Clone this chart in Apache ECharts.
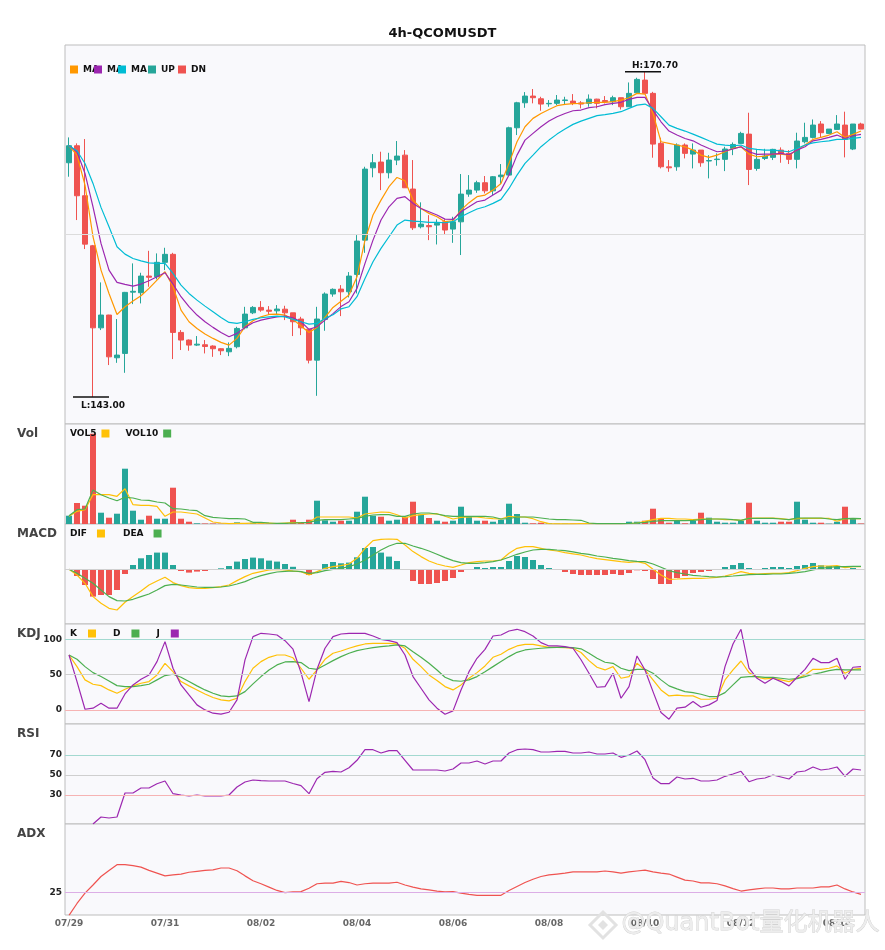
<!DOCTYPE html>
<html>
<head>
<meta charset="utf-8">
<title>4h-QCOMUSDT</title>
<script src="https://cdn.jsdelivr.net/npm/echarts/dist/echarts.min.js"></script>
<style>
html, body { margin: 0; padding: 0; background: #fff; }
#container { width: 885px; height: 950px; }
</style>
</head>
<body>
<div id="container"></div>
<script>
// 4h candles from 07/29 00:00
var startTime = Date.UTC(2025, 6, 29, 0, 0);

var opens = [
162.95, 164.40, 160.14, 155.88, 148.89, 149.98, 146.34, 146.71, 151.93, 151.88,
153.30, 153.24, 154.47, 155.15, 148.50, 147.85, 147.42, 147.45, 147.34, 147.11,
146.85, 147.28, 148.89, 150.17, 150.63, 150.40, 150.34, 150.48, 150.17, 149.64,
148.78, 146.14, 149.61, 151.77, 152.19, 151.96, 153.44, 156.36, 162.52, 163.01,
162.10, 163.18, 163.60, 160.71, 157.50, 157.60, 157.64, 157.92, 157.30, 157.92,
160.28, 160.62, 161.25, 160.56, 161.76, 161.90, 165.93, 168.06, 168.63, 168.40,
167.97, 168.01, 168.25, 168.20, 168.05, 168.01, 168.37, 168.25, 168.15, 168.49,
167.72, 168.91, 169.99, 168.86, 164.60, 162.60, 162.61, 164.46, 163.69, 164.03,
163.10, 163.22, 163.24, 164.17, 164.60, 165.39, 162.47, 163.32, 163.41, 164.03,
163.75, 163.24, 164.74, 165.11, 166.25, 165.45, 165.79, 166.16, 164.12, 166.25
];
var closes = [
164.40, 160.14, 156.02, 148.89, 149.98, 146.42, 146.57, 151.91, 152.00, 153.30,
153.20, 154.47, 155.15, 148.50, 147.85, 147.42, 147.50, 147.30, 147.11, 146.94,
147.14, 148.84, 150.06, 150.63, 150.40, 150.30, 150.49, 150.17, 149.41, 148.89,
146.14, 149.64, 151.77, 152.17, 151.96, 153.30, 156.28, 162.41, 162.95, 162.10,
163.18, 163.52, 160.82, 157.41, 157.73, 157.50, 157.79, 157.22, 157.92, 160.28,
160.62, 161.25, 160.56, 161.76, 161.90, 165.93, 168.06, 168.63, 168.49, 167.95,
168.01, 168.29, 168.30, 168.01, 167.95, 168.37, 168.01, 168.15, 168.49, 167.72,
168.86, 170.05, 168.86, 164.54, 162.61, 162.52, 164.46, 163.75, 164.03, 162.95,
163.14, 163.26, 164.12, 164.51, 165.45, 162.38, 163.24, 163.52, 164.09, 163.75,
163.24, 164.80, 165.11, 166.16, 165.51, 165.82, 166.25, 164.94, 166.25, 165.82
];
var lows = [
161.76, 158.07, 155.60, 143.00, 148.70, 145.72, 145.91, 145.06, 150.91, 150.97,
152.39, 153.02, 153.81, 146.23, 147.00, 146.94, 147.34, 146.71, 146.42, 146.57,
146.48, 147.14, 148.76, 150.06, 150.26, 149.98, 150.06, 149.55, 148.19, 148.27,
145.86, 143.10, 148.64, 151.54, 149.89, 151.48, 151.82, 155.28, 161.71, 160.62,
161.62, 162.75, 160.80, 157.22, 157.36, 156.36, 155.99, 156.85, 156.13, 155.09,
160.05, 160.39, 160.34, 160.20, 161.13, 161.90, 165.31, 167.63, 168.01, 167.38,
167.72, 167.86, 167.92, 167.86, 167.58, 167.72, 167.58, 168.00, 167.86, 167.49,
167.72, 168.86, 168.86, 163.38, 162.47, 162.18, 162.27, 163.32, 162.47, 162.61,
161.62, 162.70, 162.24, 163.60, 164.60, 161.05, 162.27, 163.18, 163.18, 162.95,
162.84, 162.47, 164.60, 165.02, 165.11, 165.39, 165.79, 163.41, 164.03, 165.82
];
var highs = [
165.11, 164.60, 164.97, 155.95, 152.76, 150.00, 149.64, 151.95, 154.38, 153.58,
155.45, 155.23, 155.71, 155.28, 148.70, 147.90, 148.19, 147.85, 147.40, 147.15,
147.65, 148.98, 150.68, 150.74, 151.17, 150.74, 150.83, 150.77, 150.17, 149.83,
148.78, 150.68, 151.91, 152.25, 152.53, 153.64, 156.79, 162.61, 163.69, 163.89,
163.80, 164.80, 164.03, 163.18, 159.58, 158.49, 158.13, 158.13, 158.35, 161.99,
161.90, 161.42, 161.82, 161.82, 162.84, 166.02, 168.14, 168.97, 169.23, 168.57,
168.29, 168.72, 168.57, 168.80, 168.20, 168.77, 168.40, 168.63, 168.66, 168.49,
169.79, 170.19, 170.70, 168.99, 165.08, 163.18, 164.60, 164.60, 164.60, 164.03,
163.60, 163.75, 164.31, 164.68, 165.59, 167.21, 164.09, 164.14, 164.14, 164.26,
164.03, 165.51, 166.36, 166.64, 166.50, 165.82, 167.01, 167.30, 166.25, 166.36
];

var ma5 = [
164.40, 163.60, 161.05, 156.65, 153.81, 151.82, 150.03, 150.69, 151.17, 151.62,
152.25, 152.96, 153.67, 152.39, 150.40, 149.41, 148.84, 148.36, 147.99, 147.65,
147.42, 147.99, 148.98, 149.49, 149.83, 150.03, 150.06, 149.98, 149.61, 149.04,
148.50, 148.93, 149.78, 150.63, 151.15, 151.68, 153.24, 156.36, 158.50, 159.77,
160.91, 161.70, 161.42, 159.77, 159.06, 158.64, 158.35, 157.93, 158.01, 158.92,
159.55, 160.06, 160.20, 160.62, 161.19, 162.90, 164.74, 166.02, 166.73, 167.15,
167.49, 167.81, 167.92, 167.98, 168.01, 168.06, 168.09, 168.09, 168.15, 168.29,
168.49, 168.86, 168.80, 167.15, 164.74, 164.60, 164.46, 164.31, 164.03, 163.60,
163.41, 163.60, 163.89, 164.17, 164.31, 163.69, 163.46, 163.52, 163.69, 163.69,
163.60, 164.03, 164.46, 164.94, 165.11, 165.31, 165.59, 165.11, 165.37, 165.65
];
var ma10 = [
164.40, 163.89, 162.04, 159.20, 156.08, 153.81, 152.76, 152.59, 152.45, 152.62,
152.90, 153.24, 153.58, 152.62, 151.54, 150.69, 149.98, 149.41, 148.93, 148.50,
148.13, 148.42, 148.93, 149.32, 149.55, 149.69, 149.83, 149.89, 149.75, 149.41,
148.76, 148.98, 149.55, 150.10, 150.70, 151.11, 152.25, 154.38, 156.36, 158.07,
159.20, 159.91, 160.06, 159.49, 159.06, 158.78, 158.50, 158.15, 158.12, 158.78,
159.20, 159.63, 159.77, 160.20, 160.62, 161.90, 163.60, 164.88, 165.45, 166.02,
166.50, 166.87, 167.15, 167.38, 167.44, 167.64, 167.72, 167.90, 168.01, 168.10,
168.35, 168.52, 168.52, 167.44, 166.44, 165.65, 165.31, 165.02, 164.82, 164.46,
164.17, 163.89, 163.95, 164.12, 164.31, 163.89, 163.66, 163.69, 163.69, 163.75,
163.63, 164.03, 164.31, 164.82, 164.94, 165.11, 165.31, 165.02, 165.25, 165.37
];
var ma20 = [
164.40, 163.97, 162.89, 161.19, 159.15, 157.50, 155.80, 155.17, 154.80, 154.60,
154.43, 154.38, 154.38, 153.53, 152.53, 151.82, 151.25, 150.74, 150.26, 149.78,
149.35, 149.27, 149.41, 149.61, 149.75, 149.83, 149.89, 149.83, 149.61, 149.41,
149.21, 149.27, 149.69, 150.00, 150.50, 150.69, 151.54, 153.10, 154.52, 155.66,
156.65, 157.64, 158.07, 157.98, 157.93, 157.87, 157.87, 157.84, 157.93, 158.35,
158.69, 159.01, 159.20, 159.49, 159.83, 160.76, 161.90, 162.90, 163.60, 164.32,
164.88, 165.39, 165.82, 166.22, 166.50, 166.73, 166.96, 167.05, 167.15, 167.30,
167.58, 167.86, 167.95, 167.58, 166.87, 166.16, 165.88, 165.65, 165.39, 165.11,
164.82, 164.54, 164.46, 164.40, 164.46, 164.17, 164.09, 164.03, 164.03, 163.97,
163.89, 164.17, 164.46, 164.65, 164.74, 164.82, 164.94, 164.94, 165.02, 165.11
];

var vols = [
8.3, 21.0, 18.3, 90.3, 11.3, 6.3, 10.3, 55.3, 13.3, 4.3,
8.3, 5.3, 5.3, 36.3, 5.3, 2.3, 0.7, 0.5, 0.5, 0.3,
0.3, 1.7, 0.5, 1.3, 0.5, 0.3, 0.3, 1.0, 4.3, 1.0,
4.3, 23.3, 3.7, 2.3, 3.3, 3.3, 12.3, 27.3, 8.3, 7.3,
3.3, 4.3, 7.3, 22.3, 9.3, 6.0, 3.3, 2.3, 3.3, 17.3,
7.7, 3.3, 3.3, 2.3, 4.3, 20.3, 10.0, 1.3, 0.7, 1.3,
0.7, 0.3, 0.3, 0.3, 0.4, 0.4, 0.4, 0.5, 0.5, 0.5,
2.3, 2.3, 3.3, 15.3, 5.3, 1.3, 3.3, 0.7, 3.3, 11.3,
6.3, 2.3, 1.3, 1.3, 3.3, 21.3, 3.3, 1.3, 1.3, 2.3,
2.3, 22.3, 4.3, 1.3, 1.3, 0.3, 2.3, 17.3, 5.3, 0.5
];
var vol5 = [
7.7, 12.7, 14.3, 29.3, 29.3, 29.3, 27.7, 35.3, 19.3, 18.7,
18.7, 17.7, 7.7, 12.0, 12.0, 11.0, 10.0, 6.0, 2.0, 1.0,
0.3, 0.7, 0.7, 0.8, 0.9, 0.8, 0.5, 1.0, 1.3, 1.3,
1.7, 7.0, 7.0, 7.0, 7.0, 7.0, 6.0, 10.0, 11.0, 12.0,
11.7, 9.3, 6.0, 8.3, 9.3, 10.0, 10.3, 7.7, 5.0, 6.7,
7.0, 7.0, 6.0, 5.3, 5.0, 7.7, 7.0, 7.0, 5.3, 2.3,
0.3, 0.2, 0.2, 0.2, 0.3, 0.3, 0.3, 0.4, 0.4, 0.4,
0.5, 1.0, 2.7, 4.3, 5.7, 5.7, 5.0, 5.0, 4.3, 5.0,
5.0, 5.0, 4.3, 4.3, 3.7, 5.7, 6.0, 6.0, 6.0, 5.3,
4.3, 5.3, 5.7, 5.7, 5.7, 5.7, 2.7, 5.3, 5.3, 5.3
];
var vol10 = [
8.3, 14.3, 15.0, 34.0, 29.3, 26.0, 23.3, 26.7, 26.0, 24.0,
23.7, 22.0, 21.0, 15.3, 15.0, 14.0, 13.3, 8.3, 6.7, 6.0,
5.3, 5.3, 5.0, 1.7, 1.7, 1.0, 0.7, 0.7, 1.0, 1.3,
1.7, 3.7, 4.3, 4.3, 4.3, 5.0, 5.7, 7.7, 9.0, 9.3,
9.3, 7.7, 7.7, 10.0, 11.0, 11.0, 10.0, 8.3, 7.7, 7.7,
7.7, 7.7, 7.7, 7.0, 5.0, 5.3, 7.0, 7.0, 7.0, 6.0,
5.0, 4.3, 4.3, 4.0, 3.7, 1.0, 0.3, 0.3, 0.3, 0.3,
0.5, 1.0, 1.7, 2.7, 3.3, 3.3, 3.3, 3.3, 3.7, 4.3,
5.0, 5.0, 5.0, 4.3, 3.7, 5.7, 5.7, 5.7, 5.7, 5.0,
4.3, 6.0, 6.0, 6.0, 6.0, 5.0, 4.3, 5.3, 5.7, 5.3
];

var macdHist = [
0.00, -0.67, -1.57, -2.73, -2.57, -2.57, -2.07, -0.47, 0.43, 1.10,
1.43, 1.67, 1.67, 0.43, -0.17, -0.33, -0.23, -0.17, 0.02, 0.10,
0.33, 0.77, 1.03, 1.17, 1.10, 0.87, 0.77, 0.53, 0.25, 0.02,
-0.57, -0.07, 0.53, 0.73, 0.60, 0.67, 1.20, 2.13, 2.23, 1.67,
1.27, 0.83, -0.07, -1.17, -1.47, -1.47, -1.37, -1.17, -0.87, -0.27,
0.02, 0.23, 0.13, 0.23, 0.23, 0.83, 1.33, 1.23, 0.93, 0.43,
0.13, -0.07, -0.27, -0.47, -0.57, -0.57, -0.57, -0.57, -0.47, -0.57,
-0.37, -0.10, -0.17, -0.97, -1.47, -1.47, -0.87, -0.67, -0.37, -0.27,
-0.17, -0.07, 0.23, 0.43, 0.63, 0.13, 0.02, 0.13, 0.23, 0.23,
0.13, 0.33, 0.43, 0.63, 0.40, 0.33, 0.27, -0.07, 0.13, 0.02
];
var dif = [
0.00, -0.57, -1.40, -2.73, -3.40, -3.90, -4.07, -3.30, -2.73, -2.17,
-1.57, -1.17, -0.80, -1.33, -1.63, -1.83, -1.90, -1.90, -1.83, -1.73,
-1.57, -1.13, -0.73, -0.40, -0.23, -0.07, 0.00, -0.05, -0.18, -0.23,
-0.57, -0.23, 0.10, 0.27, 0.37, 0.53, 1.10, 2.10, 2.87, 3.00,
3.03, 3.00, 2.43, 1.77, 1.27, 0.83, 0.53, 0.33, 0.20, 0.43,
0.67, 0.77, 0.83, 0.83, 0.93, 1.60, 2.10, 2.27, 2.27, 2.10,
1.93, 1.83, 1.67, 1.55, 1.43, 1.23, 1.07, 0.97, 0.87, 0.77,
0.70, 0.77, 0.60, 0.00, -0.57, -1.00, -0.97, -0.93, -0.90, -0.90,
-0.87, -0.80, -0.67, -0.47, -0.23, -0.40, -0.47, -0.43, -0.40, -0.40,
-0.33, -0.13, 0.10, 0.27, 0.33, 0.33, 0.37, 0.17, 0.27, 0.27
];
var dea = [
0.00, -0.40, -0.90, -1.40, -2.07, -2.73, -3.13, -3.17, -3.00, -2.73,
-2.47, -2.07, -1.63, -1.50, -1.57, -1.67, -1.77, -1.80, -1.80, -1.77,
-1.67, -1.47, -1.23, -0.90, -0.63, -0.43, -0.27, -0.20, -0.17, -0.23,
-0.40, -0.33, -0.13, 0.00, 0.10, 0.27, 0.53, 0.93, 1.43, 1.93,
2.33, 2.60, 2.60, 2.33, 2.10, 1.83, 1.50, 1.17, 0.87, 0.67,
0.60, 0.60, 0.67, 0.77, 0.93, 1.20, 1.50, 1.73, 1.93, 2.00,
2.00, 1.93, 1.87, 1.75, 1.60, 1.50, 1.33, 1.23, 1.10, 1.00,
0.87, 0.80, 0.77, 0.53, 0.20, -0.13, -0.33, -0.47, -0.60, -0.67,
-0.73, -0.77, -0.73, -0.67, -0.60, -0.53, -0.50, -0.50, -0.47, -0.47,
-0.40, -0.33, -0.23, -0.07, 0.10, 0.20, 0.27, 0.27, 0.30, 0.30
];

var kdjK = [
77.8, 61.3, 42.5, 36.3, 34.4, 28.3, 23.6, 29.2, 34.0, 37.7,
40.1, 49.5, 66.0, 54.2, 40.1, 34.0, 28.3, 22.6, 17.5, 14.2,
12.7, 16.5, 40.1, 59.0, 68.4, 74.5, 77.8, 77.8, 73.8, 59.0,
43.4, 56.6, 71.7, 80.2, 83.5, 87.3, 90.6, 93.4, 94.3, 94.3,
94.3, 93.4, 87.3, 71.7, 61.3, 49.5, 41.5, 33.0, 28.3, 35.4,
44.8, 52.8, 62.3, 74.5, 78.8, 85.8, 90.6, 92.9, 92.9, 90.6,
88.7, 88.7, 88.2, 87.3, 81.3, 69.8, 60.4, 56.6, 61.3, 44.8,
47.2, 66.0, 56.6, 42.5, 28.3, 19.8, 20.8, 19.8, 19.8, 15.1,
15.1, 16.5, 42.5, 56.6, 69.3, 52.8, 46.2, 43.9, 44.8, 42.5,
40.1, 44.8, 49.5, 57.5, 57.5, 59.0, 62.3, 51.9, 57.5, 59.0
];
var kdjD = [
77.8, 71.7, 61.3, 52.8, 47.2, 41.0, 34.4, 33.0, 33.0, 34.4,
36.3, 42.5, 48.6, 50.5, 46.2, 40.1, 34.0, 28.3, 23.6, 19.8,
18.9, 19.8, 25.9, 36.8, 47.2, 56.6, 63.7, 67.9, 68.4, 67.0,
59.0, 57.5, 63.7, 69.8, 75.5, 80.2, 84.0, 86.3, 88.2, 89.6,
90.6, 92.0, 90.6, 82.5, 74.5, 66.0, 56.6, 46.2, 41.5, 40.6,
42.5, 47.2, 54.2, 61.3, 68.4, 75.5, 81.6, 84.9, 86.3, 87.3,
88.2, 88.7, 88.7, 88.2, 86.5, 80.2, 73.1, 67.5, 66.0, 59.0,
55.7, 57.5, 57.5, 51.9, 42.5, 34.0, 29.7, 25.9, 24.5, 22.2,
18.9, 18.9, 24.5, 35.4, 46.2, 47.2, 47.2, 46.2, 46.2, 44.8,
43.4, 44.3, 47.2, 50.5, 52.8, 55.7, 57.5, 56.6, 56.6, 56.6
];
var kdjJ = [
77.8, 40.1, 0.9, 2.4, 9.4, 2.4, 2.4, 22.6, 35.4, 43.4,
49.5, 68.4, 96.7, 59.0, 35.4, 21.2, 7.1, 0.0, -4.7, -6.1,
-3.3, 14.2, 70.8, 103.8, 108.5, 107.5, 106.1, 98.1, 86.0, 52.8,
11.8, 57.5, 87.3, 103.8, 107.5, 108.5, 108.5, 108.5, 104.7, 100.0,
98.1, 95.3, 77.8, 47.2, 30.7, 14.2, 2.4, -6.1, -1.4, 28.3,
54.2, 73.1, 85.8, 104.7, 106.1, 111.8, 114.2, 110.8, 104.7, 95.3,
90.6, 90.6, 89.6, 87.3, 71.0, 51.9, 32.1, 33.0, 51.9, 16.5,
33.0, 76.4, 56.6, 25.9, -3.8, -13.2, 2.4, 3.8, 11.8, 3.8,
7.1, 13.2, 61.3, 93.4, 114.2, 59.0, 44.8, 37.7, 44.8, 40.1,
34.0, 46.2, 57.5, 73.1, 67.0, 67.0, 73.1, 43.4, 60.4, 61.3
];

var rsi = [
null, null, null, 1.0, 8.0, 7.0, 8.0, 32.0, 32.0, 37.0,
37.0, 41.3, 44.0, 31.3, 30.0, 29.0, 30.0, 29.0, 29.0, 29.0,
30.0, 38.0, 43.0, 45.0, 44.3, 44.0, 44.0, 44.0, 41.5, 39.3,
31.3, 46.3, 52.7, 53.7, 53.0, 57.3, 64.7, 75.3, 75.3, 72.0,
74.3, 74.3, 64.7, 55.0, 55.0, 55.0, 55.0, 54.0, 56.0, 62.0,
62.0, 64.0, 61.0, 64.0, 64.0, 72.0, 75.3, 76.0, 75.3, 73.0,
73.0, 73.7, 73.7, 72.0, 72.0, 73.0, 71.0, 71.0, 72.0, 67.7,
70.0, 74.0, 65.3, 47.0, 41.3, 41.3, 48.0, 46.0, 46.7, 44.0,
44.0, 45.0, 48.7, 51.0, 53.7, 43.3, 46.0, 47.0, 50.0, 48.0,
46.0, 53.0, 54.0, 58.0, 55.0, 56.0, 58.0, 48.7, 56.0, 55.0
];
var adx = [
17.4, 21.3, 24.7, 27.4, 30.2, 32.2, 34.1, 34.1, 33.8, 33.3,
32.2, 31.3, 30.4, 30.7, 31.0, 31.6, 31.9, 32.2, 32.4, 33.0,
33.0, 32.1, 30.4, 28.8, 27.8, 26.7, 25.6, 24.9, 25.1, 25.2,
26.3, 27.8, 28.0, 28.0, 28.6, 28.2, 27.4, 27.8, 28.0, 28.0,
28.0, 28.3, 27.4, 26.7, 26.1, 25.8, 25.4, 25.1, 25.2, 24.7,
24.3, 24.0, 24.0, 24.0, 24.0, 25.6, 26.9, 28.2, 29.3, 30.2,
30.7, 31.0, 31.3, 31.7, 31.7, 31.7, 31.7, 32.0, 31.7, 31.3,
31.7, 32.0, 32.3, 31.7, 31.3, 31.0, 30.0, 29.0, 28.7, 28.1,
28.1, 27.8, 27.1, 26.2, 25.4, 25.8, 26.1, 26.4, 26.4, 26.1,
26.1, 26.4, 26.4, 26.4, 26.8, 26.8, 27.4, 26.1, 25.1, 24.3
];

var UP_COLOR = '#26a69a';
var DN_COLOR = '#ef5350';
var YELLOW = '#ffc107';
var GREEN = '#4caf50';
var PURPLE = '#9c27b0';

var pad2 = function (n) { return n < 10 ? '0' + n : '' + n; };
var dates = [];
var candleData = [];
for (var i = 0; i < opens.length; i++) {
    var t = new Date(startTime + i * 4 * 3600 * 1000);
    dates.push(t.getUTCFullYear() + '-' + pad2(t.getUTCMonth() + 1) + '-' + pad2(t.getUTCDate()) + ' ' + pad2(t.getUTCHours()) + ':00');
    candleData.push([opens[i], closes[i], lows[i], highs[i]]);
}

// highest high / lowest low for the H / L marks
var hiIdx = 0, loIdx = 0;
for (var j = 1; j < highs.length; j++) {
    if (highs[j] > highs[hiIdx]) hiIdx = j;
    if (lows[j] < lows[loIdx]) loIdx = j;
}

var dom = document.getElementById('container');
var myChart = echarts.init(dom, null, { renderer: 'canvas' });

var gridTops = [45, 424, 524, 624, 724, 824];
var gridHeights = [379, 100, 100, 100, 100, 91];
var grids = [];
var xAxes = [];
for (var g = 0; g < gridTops.length; g++) {
    grids.push({
        left: 65, right: 20, top: gridTops[g], height: gridHeights[g],
        show: true, backgroundColor: '#f9f9fc', borderColor: '#bdbdbd', borderWidth: 1
    });
    xAxes.push({
        type: 'category', gridIndex: g, data: dates, boundaryGap: true,
        axisLine: { show: false }, axisTick: { show: false }, splitLine: { show: false },
        axisLabel: {
            show: g === gridTops.length - 1,
            interval: 11, margin: 4, fontSize: 9, fontWeight: 'bold', color: '#666',
            formatter: function (v) { return v.slice(5, 10).replace('-', '/'); }
        }
    });
}

var hiddenY = function (idx, min, max) {
    return {
        type: 'value', gridIndex: idx, min: min, max: max,
        axisLine: { show: false }, axisTick: { show: false },
        axisLabel: { show: false }, splitLine: { show: false }
    };
};
var labelY = function (idx, min, max, interval, shown) {
    return {
        type: 'value', gridIndex: idx, min: min, max: max, interval: interval,
        axisLine: { show: false }, axisTick: { show: false }, splitLine: { show: false },
        axisLabel: {
            margin: 3, fontSize: 9, fontWeight: 'bold', color: '#222',
            showMinLabel: false, showMaxLabel: false,
            formatter: function (v) { return shown.indexOf(v) >= 0 ? String(v) : ''; }
        }
    };
};

var guide = function (lines) {
    return {
        silent: true, symbol: ['none', 'none'], animation: false,
        label: { show: false },
        data: lines.map(function (l) {
            return { yAxis: l[0], lineStyle: { color: l[1], width: 1, type: 'solid' } };
        })
    };
};

var line = function (name, data, color, xi) {
    return {
        name: name, type: 'line', xAxisIndex: xi, yAxisIndex: xi, data: data,
        showSymbol: false, symbol: 'none', connectNulls: false,
        lineStyle: { color: color, width: 1.2 }, itemStyle: { color: color }
    };
};

var legendBase = function (extra) {
    var o = {
        top: 65, padding: 0, itemWidth: 8, itemHeight: 8, icon: 'rect',
        selectedMode: false,
        textStyle: { fontSize: 9, fontWeight: 'bold', color: '#111' }
    };
    for (var k in extra) o[k] = extra[k];
    return o;
};
// the MA names are cut off by the next legend icon, as in the source image
var maText = { fontSize: 9, fontWeight: 'bold', color: '#111', width: 20, overflow: 'truncate', ellipsis: '' };

var panelLabel = function (text, y) {
    return {
        type: 'text', left: 17, top: y, z: 10,
        style: { text: text, fill: '#444', font: 'bold 12px "DejaVu Sans"' }
    };
};

var option = {
    animation: false,
    backgroundColor: '#ffffff',
    textStyle: { fontFamily: 'DejaVu Sans' },
    title: {
        text: '4h-QCOMUSDT', left: 'center', top: 27, padding: 0,
        textStyle: { fontSize: 13, fontWeight: 'bold', color: '#111' }
    },
    legend: [
        legendBase({ data: ['MA5'], left: 70, textStyle: maText }),
        legendBase({ data: ['MA10'], left: 94, textStyle: maText }),
        legendBase({ data: ['MA20'], left: 118, textStyle: maText }),
        legendBase({ data: ['UP'], left: 148 }),
        legendBase({ data: ['DN'], left: 178 }),
        legendBase({ data: ['VOL5', 'VOL10'], left: 70, top: 429, align: 'right', itemGap: 16 }),
        legendBase({
            data: ['DIF', 'DEA'], left: 70, top: 529, align: 'right', itemGap: 18,
            textStyle: { fontSize: 9, fontWeight: 'bold', color: '#111', padding: [0, 5, 0, 0] }
        }),
        legendBase({
            data: ['K', 'D', 'J'], left: 70, top: 629, align: 'right', itemGap: 17,
            textStyle: { fontSize: 9, fontWeight: 'bold', color: '#111', padding: [0, 6, 0, 0] }
        })
    ],
    grid: grids,
    xAxis: xAxes,
    yAxis: [
        hiddenY(0, 140.70, 172.98),
        hiddenY(1, 0, 100),
        hiddenY(2, -5.47, 4.53),
        labelY(3, -20, 121.7, 1, [0, 50, 100]),
        labelY(4, 1, 101, 1, [30, 50, 70]),
        labelY(5, 17.5, 47.5, 2.5, [25])
    ],
    graphic: [
        panelLabel('Vol', 428),
        panelLabel('MACD', 528),
        panelLabel('KDJ', 628),
        panelLabel('RSI', 728),
        panelLabel('ADX', 828),
        {
            type: 'polygon', z: 100, silent: true,
            shape: { points: [[603, 912], [616, 925], [603, 938], [590, 925]] },
            style: { fill: 'none', stroke: '#e2e2e2', lineWidth: 3 }
        },
        {
            type: 'polygon', z: 100, silent: true,
            shape: { points: [[603, 920], [608, 925], [603, 930], [598, 925]] },
            style: { fill: '#e2e2e2' }
        },
        {
            type: 'text', left: 621, top: 911, z: 100, silent: true,
            style: {
                text: '@QuantBot量化机器人', fill: '#ededed', stroke: '#d2d2d2', lineWidth: 0.8,
                font: '24px "DejaVu Sans", "Noto Sans CJK SC"'
            }
        }
    ],
    series: [
        {
            name: 'QCOMUSDT', type: 'candlestick', xAxisIndex: 0, yAxisIndex: 0,
            data: candleData, barWidth: 5,
            itemStyle: {
                color: UP_COLOR, color0: DN_COLOR,
                borderColor: UP_COLOR, borderColor0: DN_COLOR, borderWidth: 1
            },
            markLine: guide([[(140.70 + 172.98) / 2, '#dcdcdc']]),
            markPoint: {
                symbol: 'rect', symbolSize: [36, 1.5], silent: true, animation: false,
                itemStyle: { color: '#111' },
                label: { show: true, color: '#111', fontSize: 9, fontWeight: 'bold' },
                data: [
                    {
                        coord: [dates[hiIdx], highs[hiIdx]], symbolOffset: [-2, 0],
                        label: { position: 'top', distance: 1, offset: [12, 0], formatter: 'H:' + highs[hiIdx].toFixed(2) }
                    },
                    {
                        coord: [dates[loIdx], lows[loIdx]], symbolOffset: [-2, 0],
                        label: { position: 'bottom', distance: 3, offset: [12, 0], formatter: 'L:' + lows[loIdx].toFixed(2) }
                    }
                ]
            }
        },
        line('MA5', ma5, '#ff9800', 0),
        line('MA10', ma10, PURPLE, 0),
        line('MA20', ma20, '#00bcd4', 0),
        { name: 'UP', type: 'bar', xAxisIndex: 0, yAxisIndex: 0, data: [], itemStyle: { color: UP_COLOR } },
        { name: 'DN', type: 'bar', xAxisIndex: 0, yAxisIndex: 0, data: [], itemStyle: { color: DN_COLOR } },
        {
            name: 'Vol', type: 'bar', xAxisIndex: 1, yAxisIndex: 1, data: vols, barWidth: 6,
            itemStyle: {
                color: function (p) { return closes[p.dataIndex] >= opens[p.dataIndex] ? UP_COLOR : DN_COLOR; }
            }
        },
        line('VOL5', vol5, YELLOW, 1),
        line('VOL10', vol10, GREEN, 1),
        {
            name: 'MACD', type: 'bar', xAxisIndex: 2, yAxisIndex: 2, data: macdHist, barWidth: 6,
            itemStyle: {
                color: function (p) { return p.value >= 0 ? UP_COLOR : DN_COLOR; }
            },
            markLine: guide([[0, '#d0d0d0']])
        },
        line('DIF', dif, YELLOW, 2),
        line('DEA', dea, GREEN, 2),
        (function () {
            var s = line('K', kdjK, YELLOW, 3);
            s.markLine = guide([[100, '#a3d9d0'], [50, '#cfcfcf'], [0, '#f6b3b3']]);
            return s;
        })(),
        line('D', kdjD, GREEN, 3),
        line('J', kdjJ, PURPLE, 3),
        (function () {
            var s = line('RSI', rsi, PURPLE, 4);
            s.markLine = guide([[70, '#a3d9d0'], [50, '#cfcfcf'], [30, '#f6b3b3']]);
            return s;
        })(),
        (function () {
            var s = line('ADX', adx, DN_COLOR, 5);
            s.markLine = guide([[25, '#dcaee6']]);
            return s;
        })()
    ]
};

if (option && typeof option === 'object') {
    myChart.setOption(option, false);
}
</script>
</body>
</html>
